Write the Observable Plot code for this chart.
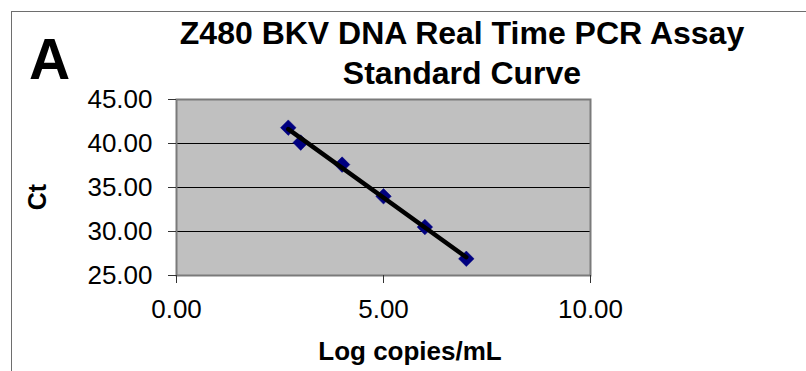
<!DOCTYPE html>
<html>
<head>
<meta charset="utf-8">
<script src="https://cdn.jsdelivr.net/npm/d3@7"></script>
<script src="https://cdn.jsdelivr.net/npm/@observablehq/plot@0.6"></script>
<style>
  html, body { margin: 0; padding: 0; background: #fff; }
  #wrap { position: relative; width: 806px; height: 371px; overflow: hidden; font-family: "Liberation Sans", Arial, sans-serif; }
  #outer { position: absolute; left: 11px; top: 11px; width: 1000px; height: 600px; border: 1px solid #6e6e6e; box-sizing: border-box; }
  .lbl { position: absolute; white-space: nowrap; color: #000; line-height: 1; }
  #chart { position: absolute; left: 0; top: 0; }
</style>
</head>
<body>
<div id="wrap">
  <div id="outer"></div>
  <div id="chart"></div>
  <div class="lbl" id="panel" style="left:29px; top:31px; font-size:57px; font-weight:bold;">A</div>
  <div class="lbl" id="title" style="left:162px; width:600px; top:13px; font-size:32px; font-weight:bold; text-align:center; line-height:40px;">Z480 BKV DNA Real Time PCR Assay<br>Standard Curve</div>
  <div class="lbl" id="xlab" style="left:310px; width:200px; top:338px; font-size:26px; font-weight:bold; text-align:center;">Log copies/mL</div>
  <div class="lbl" id="ylab" style="left:37px; top:197px; font-size:25px; font-weight:bold; transform: translate(-50%,-50%) rotate(-90deg);">Ct</div>
</div>
<script>
// Data
const logCopies = [2.7, 3.0, 4.0, 5.0, 6.0, 7.0];
const ctValues  = [41.8, 40.1, 37.6, 34.0, 30.5, 26.9];
const xTicks = [0, 5, 10];
const yTicks = [25, 30, 35, 40, 45];
const yGrid  = [30, 35, 40];

const data = logCopies.map((x, i) => ({x, y: ctValues[i]}));
const fmt = d => d.toFixed(2);

const chart = Plot.plot({
  width: 806,
  height: 371,
  marginLeft: 176,
  marginRight: 216,
  marginTop: 99,
  marginBottom: 96,
  style: {fontFamily: '"Liberation Sans", Arial, sans-serif', fontSize: "26px", background: "transparent", color: "#000"},
  x: {domain: [0, 10]},
  y: {domain: [25, 45]},
  marks: [
    Plot.frame({fill: "#c0c0c0", stroke: null}),
    Plot.gridY(yGrid, {stroke: "#000", strokeOpacity: 1, strokeWidth: 1}),
    Plot.frame({stroke: "#7a7a7a", strokeWidth: 2}),
    Plot.axisX({ticks: xTicks, tickFormat: fmt, tickSize: 8, tickPadding: 16, stroke: "#333", label: null, fontSize: 26}),
    Plot.axisY({ticks: yTicks, tickFormat: fmt, tickSize: 8, tickPadding: 16, stroke: "#333", label: null, fontSize: 26}),
    Plot.dot(data, {x: "x", y: "y", symbol: "diamond2", r: 7, fill: "#000080", stroke: "#000080", strokeWidth: 0.5}),
    Plot.linearRegressionY(data, {x: "x", y: "y", ci: 0, stroke: "#000", strokeWidth: 4.5})
  ]
});
document.getElementById("chart").appendChild(chart);
</script>
</body>
</html>
